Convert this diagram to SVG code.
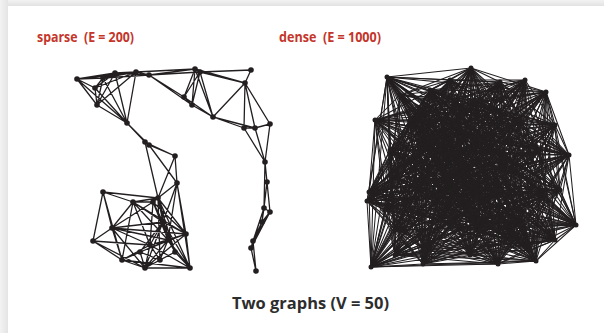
<svg xmlns="http://www.w3.org/2000/svg" width="604" height="333" viewBox="0 0 604 333">
<defs>
<linearGradient id="gt" x1="0" y1="0" x2="0" y2="1"><stop offset="0" stop-color="#f2f2f2"/><stop offset="1" stop-color="#e2e2e2"/></linearGradient>
<linearGradient id="gl" x1="0" y1="0" x2="1" y2="0"><stop offset="0" stop-color="#f3f3f3"/><stop offset="1" stop-color="#e4e4e4"/></linearGradient>
</defs>
<style>
.e{fill:none;stroke:#231f20;stroke-linejoin:round;stroke-linecap:round}
.s{stroke-width:1.3}
.d{stroke-width:1.05}
circle{fill:#231f20}
.t{font-family:"Open Sans","Liberation Sans",sans-serif;font-weight:bold;fill:#c4352a;font-size:14.5px}
.c{font-family:"Open Sans","Liberation Sans",sans-serif;font-weight:bold;fill:#2d2d2d;font-size:16px}
</style>
<rect x="0" y="0" width="604" height="333" fill="#fff"/>
<rect x="0" y="0" width="604" height="6" fill="url(#gt)"/>
<rect x="0" y="0" width="8" height="333" fill="url(#gl)"/>
<text class="t" x="37" y="42" textLength="97" lengthAdjust="spacingAndGlyphs" xml:space="preserve">sparse  (E = 200)</text>
<text class="t" x="279" y="42" textLength="102" lengthAdjust="spacingAndGlyphs" xml:space="preserve">dense  (E = 1000)</text>
<text class="c" x="232" y="309" textLength="157" lengthAdjust="spacingAndGlyphs">Two graphs (V = 50)</text>
<g id="connectors">
<path class="e s" d="M77 79L95 88M77 79L103 78M77 79L115 73M77 79L136 72M77 79L97 105M77 79L127 123M95 88L103 78M95 88L115 73M95 88L136 72M95 88L97 105M95 88L127 123M103 78L115 73M103 78L136 72M103 78L97 105M103 78L127 123M103 78L149 75M115 73L136 72M115 73L149 75M115 73L97 105M115 73L127 123M136 72L149 75M136 72L97 105M136 72L127 123M97 105L127 123M149 75L195 69M136 72L195 69M149 75L200 72M149 75L184 97M149 75L192 105M127 123L145 142M127 123L149 145M145 142L149 145M145 142L175 156M149 145L175 156M145 142L158 198M149 145L177 183M175 156L177 183M175 156L158 198
M195 69L200 72M195 69L184 97M195 69L192 105M200 72L184 97M200 72L192 105M195 69L213 117M200 72L213 117M184 97L192 105M184 97L213 117M192 105L213 117M200 72L251 70M200 72L245 83M195 69L245 83M251 70L245 83M245 83L213 117M245 83L244 128M245 83L255 128M245 83L270 124M213 117L244 128M213 117L255 128M244 128L255 128M255 128L270 124M244 128L265 162M255 128L265 162M270 124L265 162
M265 162L267 182M265 162L264 208M265 162L270 212M267 182L264 208M267 182L270 212M264 208L270 212M264 208L262 222M270 212L262 222M264 208L253 241M264 208L251 248M270 212L253 241M270 212L251 248M262 222L253 241M262 222L251 248M253 241L251 248M253 241L256 271M251 248L256 271M267 182L262 222
M177 183L158 198M177 183L153 202M177 183L186 234M177 183L190 268M177 183L163 222M177 183L168 240M103 192L133 202M103 192L112 228M103 192L93 241M103 192L158 198M103 192L122 260M133 202L158 198M133 202L153 202M133 202L112 228M133 202L186 234M133 202L163 222M133 202L168 240M133 202L122 260M133 202L150 245M153 202L163 222M153 202L168 240M153 202L150 245M153 202L175 252M153 202L112 228M153 202L186 234M158 198L163 222M158 198L168 240M158 198L175 252M158 198L186 234M158 198L160 260M158 198L190 268M112 228L93 241M112 228L186 234M112 228L122 260M112 228L163 222M112 228L168 240M112 228L150 245M112 228L145 268M93 241L122 260M93 241L145 268M93 241L150 245M122 260L145 268M122 260L190 268M122 260L150 245M122 260L168 240M145 268L190 268M145 268L186 234M145 268L163 222M145 268L168 240M145 268L150 245M145 268L140 252M145 268L175 252M190 268L186 234M190 268L168 240M190 268L175 252M190 268L150 245M190 268L163 222M186 234L163 222M186 234L168 240M186 234L150 245M186 234L140 252M163 222L168 240M163 222L150 245M163 222L140 252M163 222L175 252M168 240L150 245M168 240L160 260M150 245L160 260M140 252L160 260M175 252L160 260M168 240L175 252"/>
<polyline class="e d" points="455,125 387,77 498,264 520,225 520,120 440,150 369,192 545,195 471,68 425,250 440,220 480,140 576,225 475,100 410,120 395,230 500,190 540,150 423,264 367,201 546,92 480,230 390,150 430,90 555,240 569,155 460,180 415,185 371,267 536,261 500,82 455,125"/>
<polyline class="e d" points="455,125 498,264 520,120 387,77 369,192 520,225 471,68 440,150 440,220 545,195 576,225 425,250 410,120 480,140 500,190 475,100 423,264 395,230 546,92 540,150 390,150 367,201 555,240 480,230 460,180 430,90 371,267 569,155 500,82 415,185 536,261 455,125"/>
<polyline class="e d" points="455,125 520,120 369,192 498,264 471,68 387,77 440,220 520,225 576,225 440,150 410,120 545,195 500,190 425,250 423,264 480,140 546,92 475,100 390,150 395,230 555,240 540,150 460,180 367,201 371,267 480,230 500,82 430,90 536,261 569,155 415,185 455,125"/>
<polyline class="e d" points="455,125 369,192 471,68 520,120 440,220 498,264 576,225 387,77 410,120 520,225 500,190 440,150 423,264 545,195 546,92 425,250 390,150 480,140 555,240 475,100 460,180 395,230 371,267 540,150 500,82 367,201 536,261 480,230 415,185 430,90 569,155 455,125"/>
<polyline class="e d" points="455,125 471,68 440,220 369,192 576,225 520,120 410,120 498,264 500,190 387,77 423,264 520,225 546,92 440,150 390,150 545,195 555,240 425,250 460,180 480,140 371,267 475,100 500,82 395,230 536,261 540,150 415,185 367,201 569,155 480,230 430,90 455,125"/>
<polyline class="e d" points="455,125 440,220 576,225 471,68 410,120 369,192 500,190 520,120 423,264 498,264 546,92 387,77 390,150 520,225 555,240 440,150 460,180 545,195 371,267 425,250 500,82 480,140 536,261 475,100 415,185 395,230 569,155 540,150 430,90 367,201 480,230 455,125"/>
<polyline class="e d" points="455,125 576,225 410,120 440,220 500,190 471,68 423,264 369,192 546,92 520,120 390,150 498,264 555,240 387,77 460,180 520,225 371,267 440,150 500,82 545,195 536,261 425,250 415,185 480,140 569,155 475,100 430,90 395,230 480,230 540,150 367,201 455,125"/>
<polyline class="e d" points="455,125 410,120 500,190 576,225 423,264 440,220 546,92 471,68 390,150 369,192 555,240 520,120 460,180 498,264 371,267 387,77 500,82 520,225 536,261 440,150 415,185 545,195 569,155 425,250 430,90 480,140 480,230 475,100 367,201 395,230 540,150 455,125"/>
<polyline class="e d" points="455,125 500,190 423,264 410,120 546,92 576,225 390,150 440,220 555,240 471,68 460,180 369,192 371,267 520,120 500,82 498,264 536,261 387,77 415,185 520,225 569,155 440,150 430,90 545,195 480,230 425,250 367,201 480,140 540,150 475,100 395,230 455,125"/>
<polyline class="e d" points="455,125 423,264 546,92 500,190 390,150 410,120 555,240 576,225 460,180 440,220 371,267 471,68 500,82 369,192 536,261 520,120 415,185 498,264 569,155 387,77 430,90 520,225 480,230 440,150 367,201 545,195 540,150 425,250 395,230 480,140 475,100 455,125"/>
<polyline class="e d" points="455,125 546,92 390,150 423,264 555,240 500,190 460,180 410,120 371,267 576,225 500,82 440,220 536,261 471,68 415,185 369,192 569,155 520,120 430,90 498,264 480,230 387,77 367,201 520,225 540,150 440,150 395,230 545,195 475,100 425,250 480,140 455,125"/>
<polyline class="e d" points="455,125 390,150 555,240 546,92 460,180 423,264 371,267 500,190 500,82 410,120 536,261 576,225 415,185 440,220 569,155 471,68 430,90 369,192 480,230 520,120 367,201 498,264 540,150 387,77 395,230 520,225 475,100 440,150 480,140 545,195 425,250 455,125"/>
<polyline class="e d" points="455,125 555,240 460,180 390,150 371,267 546,92 500,82 423,264 536,261 500,190 415,185 410,120 569,155 576,225 430,90 440,220 480,230 471,68 367,201 369,192 540,150 520,120 395,230 498,264 475,100 387,77 480,140 520,225 425,250 440,150 545,195 455,125"/>
<polyline class="e d" points="455,125 460,180 371,267 555,240 500,82 390,150 536,261 546,92 415,185 423,264 569,155 500,190 430,90 410,120 480,230 576,225 367,201 440,220 540,150 471,68 395,230 369,192 475,100 520,120 480,140 498,264 425,250 387,77 545,195 520,225 440,150 455,125"/>
<polyline class="e d" points="455,125 371,267 500,82 460,180 536,261 555,240 415,185 390,150 569,155 546,92 430,90 423,264 480,230 500,190 367,201 410,120 540,150 576,225 395,230 440,220 475,100 471,68 480,140 369,192 425,250 520,120 545,195 498,264 440,150 387,77 520,225 455,125"/>
<polyline class="e d" points="500,110 400,95 530,250 390,175 450,80 455,100 385,210 510,240 560,190 420,110 420,140 555,125 470,255 470,210 505,155 395,255 375,120 525,80 440,195 500,110"/>
<polyline class="e d" points="500,110 530,250 450,80 400,95 385,210 390,175 560,190 455,100 420,140 510,240 470,255 420,110 505,155 555,125 375,120 470,210 440,195 395,255 525,80 500,110"/>
<polyline class="e d" points="500,110 450,80 385,210 530,250 560,190 400,95 420,140 390,175 470,255 455,100 505,155 510,240 375,120 420,110 440,195 555,125 525,80 470,210 395,255 500,110"/>
<polyline class="e d" points="500,110 385,210 560,190 450,80 420,140 530,250 470,255 400,95 505,155 390,175 375,120 455,100 440,195 510,240 525,80 420,110 395,255 555,125 470,210 500,110"/>
<polyline class="e d" points="500,110 560,190 420,140 385,210 470,255 450,80 505,155 530,250 375,120 400,95 440,195 390,175 525,80 455,100 395,255 510,240 470,210 420,110 555,125 500,110"/>
<polyline class="e d" points="500,110 420,140 470,255 560,190 505,155 385,210 375,120 450,80 440,195 530,250 525,80 400,95 395,255 390,175 470,210 455,100 555,125 510,240 420,110 500,110"/>
<polyline class="e d" points="500,110 470,255 505,155 420,140 375,120 560,190 440,195 385,210 525,80 450,80 395,255 530,250 470,210 400,95 555,125 390,175 420,110 455,100 510,240 500,110"/>
<polyline class="e d" points="500,110 505,155 375,120 470,255 440,195 420,140 525,80 560,190 395,255 385,210 470,210 450,80 555,125 530,250 420,110 400,95 510,240 390,175 455,100 500,110"/>
<polyline class="e d" points="500,110 375,120 440,195 505,155 525,80 470,255 395,255 420,140 470,210 560,190 555,125 385,210 420,110 450,80 510,240 530,250 455,100 400,95 390,175 500,110"/>
<polyline class="e d" points="400,95 387,77 530,250 410,120 450,80 371,267 385,210 367,201 560,190 440,150 420,140 471,68 470,255 390,150 505,155 569,155 375,120 480,140 440,195 498,264 525,80 500,190 395,255 500,82 470,210 540,150 555,125 520,225 420,110 440,220 510,240 555,240 455,100 430,90 390,175 425,250"/>
<polyline class="e d" points="400,95 471,68 530,250 390,150 450,80 569,155 385,210 480,140 560,190 498,264 420,140 500,190 470,255 500,82 505,155 540,150 375,120 520,225 440,195 440,220 525,80 555,240 395,255 430,90 470,210 425,250 555,125 520,120 420,110 423,264 510,240 536,261 455,100 395,230 390,175 455,125"/>
<polyline class="e d" points="400,95 500,190 530,250 500,82 450,80 540,150 385,210 520,225 560,190 440,220 420,140 555,240 470,255 430,90 505,155 425,250 375,120 520,120 440,195 423,264 525,80 536,261 395,255 395,230 470,210 455,125 555,125 576,225 420,110 460,180 510,240 480,230 455,100 545,195 390,175 369,192"/>
<polyline class="e d" points="400,95 555,240 530,250 430,90 450,80 425,250 385,210 520,120 560,190 423,264 420,140 536,261 470,255 395,230 505,155 455,125 375,120 576,225 440,195 460,180 525,80 480,230 395,255 545,195 470,210 369,192 555,125 546,92 420,110 415,185 510,240 475,100 455,100 387,77 390,175 410,120"/>
<polyline class="e d" points="400,95 536,261 530,250 395,230 450,80 455,125 385,210 576,225 560,190 460,180 420,140 480,230 470,255 545,195 505,155 369,192 375,120 546,92 440,195 415,185 525,80 475,100 395,255 387,77 470,210 410,120 555,125 371,267 420,110 367,201 510,240 440,150 455,100 471,68 390,175 390,150"/>
<polyline class="e d" points="400,95 480,230 530,250 545,195 450,80 369,192 385,210 546,92 560,190 415,185 420,140 475,100 470,255 387,77 505,155 410,120 375,120 371,267 440,195 367,201 525,80 440,150 395,255 471,68 470,210 390,150 555,125 569,155 420,110 480,140 510,240 498,264 455,100 500,190 390,175 500,82"/>
<polyline class="e d" points="400,95 475,100 530,250 387,77 450,80 410,120 385,210 371,267 560,190 367,201 420,140 440,150 470,255 471,68 505,155 390,150 375,120 569,155 440,195 480,140 525,80 498,264 395,255 500,190 470,210 500,82 555,125 540,150 420,110 520,225 510,240 440,220 455,100 555,240 390,175 430,90"/>
<polyline class="e d" points="400,95 440,150 530,250 471,68 450,80 390,150 385,210 569,155 560,190 480,140 420,140 498,264 470,255 500,190 505,155 500,82 375,120 540,150 440,195 520,225 525,80 440,220 395,255 555,240 470,210 430,90 555,125 425,250 420,110 520,120 510,240 423,264 455,100 536,261 390,175 395,230"/>
</g>
<g id="sparse-nodes">
<g id="sA1"><circle cx="77" cy="79" r="2.8"/></g>
<g id="sA2"><circle cx="95" cy="88" r="2.8"/></g>
<g id="sA3"><circle cx="103" cy="78" r="2.8"/></g>
<g id="sA4"><circle cx="115" cy="73" r="2.8"/></g>
<g id="sA5"><circle cx="136" cy="72" r="2.8"/></g>
<g id="sA6"><circle cx="149" cy="75" r="2.8"/></g>
<g id="sA7"><circle cx="97" cy="105" r="2.8"/></g>
<g id="sA8"><circle cx="127" cy="123" r="2.8"/></g>
<g id="sC1"><circle cx="145" cy="142" r="2.8"/></g>
<g id="sC1b"><circle cx="149" cy="145" r="2.8"/></g>
<g id="sC2"><circle cx="175" cy="156" r="2.8"/></g>
<g id="sB1"><circle cx="195" cy="69" r="2.8"/></g>
<g id="sB2"><circle cx="200" cy="72" r="2.8"/></g>
<g id="sB3"><circle cx="184" cy="97" r="2.8"/></g>
<g id="sB4"><circle cx="192" cy="105" r="2.8"/></g>
<g id="sB5"><circle cx="213" cy="117" r="2.8"/></g>
<g id="sB6"><circle cx="251" cy="70" r="2.8"/></g>
<g id="sB7"><circle cx="245" cy="83" r="2.8"/></g>
<g id="sB8"><circle cx="244" cy="128" r="2.8"/></g>
<g id="sB9"><circle cx="255" cy="128" r="2.8"/></g>
<g id="sB10"><circle cx="270" cy="124" r="2.8"/></g>
<g id="sB11"><circle cx="265" cy="162" r="2.8"/></g>
<g id="sD1"><circle cx="177" cy="183" r="2.8"/></g>
<g id="sD2"><circle cx="103" cy="192" r="2.8"/></g>
<g id="sD3"><circle cx="133" cy="202" r="2.8"/></g>
<g id="sD4"><circle cx="158" cy="198" r="2.8"/></g>
<g id="sD5"><circle cx="153" cy="202" r="2.8"/></g>
<g id="sD6"><circle cx="112" cy="228" r="2.8"/></g>
<g id="sD7"><circle cx="93" cy="241" r="2.8"/></g>
<g id="sD8"><circle cx="186" cy="234" r="2.8"/></g>
<g id="sD9"><circle cx="122" cy="260" r="2.8"/></g>
<g id="sD10"><circle cx="145" cy="268" r="2.8"/></g>
<g id="sD11"><circle cx="190" cy="268" r="2.8"/></g>
<g id="sD12"><circle cx="163" cy="222" r="2.8"/></g>
<g id="sD13"><circle cx="168" cy="240" r="2.8"/></g>
<g id="sD14"><circle cx="150" cy="245" r="2.8"/></g>
<g id="sD15"><circle cx="140" cy="252" r="2.8"/></g>
<g id="sD16"><circle cx="175" cy="252" r="2.8"/></g>
<g id="sD17"><circle cx="160" cy="260" r="2.8"/></g>
<g id="sE2"><circle cx="267" cy="182" r="2.8"/></g>
<g id="sE3"><circle cx="264" cy="208" r="2.8"/></g>
<g id="sE4"><circle cx="270" cy="212" r="2.8"/></g>
<g id="sE5"><circle cx="262" cy="222" r="2.8"/></g>
<g id="sE6"><circle cx="253" cy="241" r="2.8"/></g>
<g id="sE7"><circle cx="251" cy="248" r="2.8"/></g>
<g id="sE8"><circle cx="256" cy="271" r="2.8"/></g>
</g>
<g id="dense-nodes">
<g id="dInf"><circle cx="455" cy="125" r="2.5"/></g>
<g id="d0"><circle cx="387" cy="77" r="2.5"/></g>
<g id="d1"><circle cx="498" cy="264" r="2.5"/></g>
<g id="d2"><circle cx="520" cy="120" r="2.5"/></g>
<g id="d3"><circle cx="369" cy="192" r="2.5"/></g>
<g id="d4"><circle cx="471" cy="68" r="2.5"/></g>
<g id="d5"><circle cx="440" cy="220" r="2.5"/></g>
<g id="d6"><circle cx="576" cy="225" r="2.5"/></g>
<g id="d7"><circle cx="410" cy="120" r="2.5"/></g>
<g id="d8"><circle cx="500" cy="190" r="2.5"/></g>
<g id="d9"><circle cx="423" cy="264" r="2.5"/></g>
<g id="d10"><circle cx="546" cy="92" r="2.5"/></g>
<g id="d11"><circle cx="390" cy="150" r="2.5"/></g>
<g id="d12"><circle cx="555" cy="240" r="2.5"/></g>
<g id="d13"><circle cx="460" cy="180" r="2.5"/></g>
<g id="d14"><circle cx="371" cy="267" r="2.5"/></g>
<g id="d15"><circle cx="500" cy="82" r="2.5"/></g>
<g id="d16"><circle cx="536" cy="261" r="2.5"/></g>
<g id="d17"><circle cx="415" cy="185" r="2.5"/></g>
<g id="d18"><circle cx="569" cy="155" r="2.5"/></g>
<g id="d19"><circle cx="430" cy="90" r="2.5"/></g>
<g id="d20"><circle cx="480" cy="230" r="2.5"/></g>
<g id="d21"><circle cx="367" cy="201" r="2.5"/></g>
<g id="d22"><circle cx="540" cy="150" r="2.5"/></g>
<g id="d23"><circle cx="395" cy="230" r="2.5"/></g>
<g id="d24"><circle cx="475" cy="100" r="2.5"/></g>
<g id="d25"><circle cx="480" cy="140" r="2.5"/></g>
<g id="d26"><circle cx="425" cy="250" r="2.5"/></g>
<g id="d27"><circle cx="545" cy="195" r="2.5"/></g>
<g id="d28"><circle cx="440" cy="150" r="2.5"/></g>
<g id="d29"><circle cx="520" cy="225" r="2.5"/></g>
<g id="n0"><circle cx="400" cy="95" r="2.5"/></g>
<g id="n1"><circle cx="530" cy="250" r="2.5"/></g>
<g id="n2"><circle cx="450" cy="80" r="2.5"/></g>
<g id="n3"><circle cx="385" cy="210" r="2.5"/></g>
<g id="n4"><circle cx="560" cy="190" r="2.5"/></g>
<g id="n5"><circle cx="420" cy="140" r="2.5"/></g>
<g id="n6"><circle cx="470" cy="255" r="2.5"/></g>
<g id="n7"><circle cx="505" cy="155" r="2.5"/></g>
<g id="n8"><circle cx="375" cy="120" r="2.5"/></g>
<g id="n9"><circle cx="440" cy="195" r="2.5"/></g>
<g id="n10"><circle cx="525" cy="80" r="2.5"/></g>
<g id="n11"><circle cx="395" cy="255" r="2.5"/></g>
<g id="n12"><circle cx="470" cy="210" r="2.5"/></g>
<g id="n13"><circle cx="555" cy="125" r="2.5"/></g>
<g id="n14"><circle cx="420" cy="110" r="2.5"/></g>
<g id="n15"><circle cx="510" cy="240" r="2.5"/></g>
<g id="n16"><circle cx="455" cy="100" r="2.5"/></g>
<g id="n17"><circle cx="390" cy="175" r="2.5"/></g>
</g>
</svg>
